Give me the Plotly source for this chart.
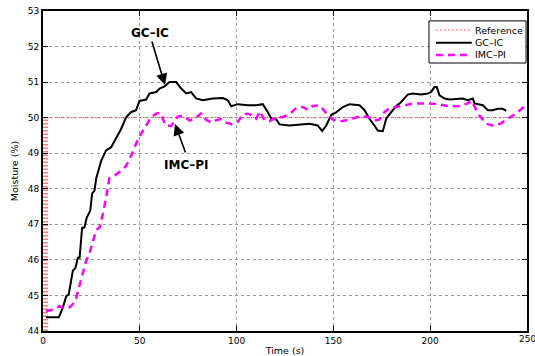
import plotly.graph_objects as go

# ---------------- data ----------------
gc_t = [1.5, 8.2, 10.2, 12, 13.3, 15.4, 16.8, 18, 18.9, 20.2, 21.4, 22.6, 24.4, 25.4, 26.6, 27.5,
        30.1, 32.6, 35.2, 37.8, 40.4, 43, 45.6, 48.1, 49.8, 53.3, 55, 58.5, 60.2, 62.8, 65.3, 68.8,
        71.4, 74, 76.5, 79.1, 82.5, 87.7, 92.9, 95.5, 97.2, 100.6, 105.8, 110.1, 113.5, 116.1, 117.9,
        120.5, 122.2, 127.3, 132.5, 137.7, 141.9, 144.2, 146.3, 148.9, 151.4, 154.9, 158.3, 163.5,
        166.1, 168.6, 171.2, 172.9, 175.5, 177.3, 179.9, 182.4, 185, 186.7, 188.4, 191, 195.3, 198.8,
        200.5, 202.2, 203.4, 204.8, 207.4, 210, 216.8, 219.4, 222, 222.9, 227.2, 229.8, 232.3, 234.9,
        237.5, 239.3]
gc_v = [44.39, 44.39, 44.65, 44.98, 45.03, 45.69, 45.78, 46.06, 46.06, 46.9, 46.91, 47.19, 47.38, 47.87, 47.95, 48.3,
        48.79, 49.08, 49.17, 49.45, 49.69, 50.02, 50.16, 50.21, 50.47, 50.51, 50.68, 50.72, 50.82, 50.88, 51.0, 51.0,
        50.82, 50.68, 50.72, 50.54, 50.49, 50.54, 50.55, 50.49, 50.32, 50.38, 50.35, 50.35, 50.38, 50.16, 49.97,
        49.95, 49.81, 49.78, 49.81, 49.83, 49.78, 49.62, 49.78, 50.08, 50.15, 50.3, 50.38, 50.35,
        50.21, 49.97, 49.78, 49.64, 49.62, 49.97, 50.16, 50.32, 50.44, 50.54, 50.65, 50.68, 50.65, 50.68,
        50.72, 50.86, 50.86, 50.63, 50.54, 50.51, 50.54, 50.49, 50.54, 50.4, 50.35, 50.21, 50.21, 50.25,
        50.25, 50.19]

imc_t = [1.5, 5.1, 8.5, 10.2, 13.7, 15.4, 17.1, 18.9, 20.6, 22.3, 24.1, 25.7, 27.5, 29.2, 30.9, 32.6,
         34.3, 36.9, 40.4, 43, 45.6, 48.1, 50.7, 53.3, 55.9, 58.5, 60.2, 61.9, 63.3, 66.2, 69.6, 72.2,
         75.7, 78.3, 81.7, 84.3, 86.9, 89.5, 92, 94.6, 97.2, 100.6, 103.6, 106.7, 110.1, 111.9, 114.5,
         117, 120.5, 123.9, 127.3, 130.8, 134.2, 136.8, 139.4, 142.8, 144.9, 147.1, 149.7, 153.1, 156.6,
         160, 164.3, 167.8, 171.2, 173.8, 176.4, 179, 182.4, 185.8, 191, 195.3, 199.6, 204.8, 210, 214.3,
         216.8, 219.4, 221.2, 222.9, 225.5, 228.9, 232.3, 236.2, 239.3, 242.7, 245.5, 248.7, 250]
imc_v = [44.56, 44.6, 44.7, 44.65, 44.67, 44.75, 44.93, 45.31, 45.69, 45.97, 46.2, 46.53, 46.84, 46.91, 47.29, 47.76,
         48.3, 48.37, 48.51, 48.65, 48.94, 49.27, 49.55, 49.78, 50.02, 50.11, 50.14, 49.97, 49.78, 49.77, 50.03, 50.06,
         49.92, 49.97, 50.12, 49.94, 49.86, 49.93, 49.96, 49.86, 49.82, 49.88, 50.11, 50.1, 49.97, 50.18, 49.92,
         49.9, 50.0, 50.02, 50.1, 50.27, 50.3, 50.22, 50.33, 50.35, 50.21, 50.08, 49.95, 49.89, 49.93,
         49.98, 50.04, 50.02, 49.92, 49.95, 50.16, 50.27, 50.29, 50.33, 50.4, 50.4, 50.4, 50.37, 50.32, 50.32,
         50.35, 50.4, 50.48, 50.3, 50.05, 49.83, 49.78, 49.83, 49.93, 50.06, 50.17, 50.33, 50.38]

ref_t = [0, 250]
ref_v = [50, 50]
ref_start_t = [1.3, 1.3]
ref_start_v = [44, 50]

x_ticks = [0, 50, 100, 150, 200, 250]
y_ticks = [44, 45, 46, 47, 48, 49, 50, 51, 52, 53]

FONT = "DejaVu Sans"
MAG = "#ff00ff"
REF_COL = "#ff4040"
REF_DASH = "1.5px,2.5px"
TICKFONT = dict(family=FONT, size=9, color="black")

fig = go.Figure()
fig.add_trace(go.Scatter(x=ref_start_t, y=ref_start_v, mode="lines", showlegend=False,
                         line=dict(color="#ff7a7a", width=5, dash="1.5px,2px"), cliponaxis=False))
fig.add_trace(go.Scatter(x=ref_t, y=ref_v, mode="lines", name="Reference",
                         line=dict(color=REF_COL, width=1, dash=REF_DASH)))
fig.add_trace(go.Scatter(x=gc_t, y=gc_v, mode="lines", name="GC\u2013IC",
                         line=dict(color="black", width=2)))
fig.add_trace(go.Scatter(x=imc_t, y=imc_v, mode="lines", name="IMC\u2013PI",
                         line=dict(color=MAG, width=2.5, dash="7px,5px")))

axis_common = dict(showline=True, linecolor="black", linewidth=2, mirror="ticks",
                   ticks="inside", ticklen=5, tickcolor="black", tickwidth=1,
                   showgrid=True, gridcolor="#9a9a9a", gridwidth=1, griddash="dot",
                   zeroline=False, automargin=False, tickfont=TICKFONT)

fig.update_xaxes(range=[0, 250], tickvals=x_ticks, ticktext=[str(v) for v in x_ticks],
                 ticklabelstandoff=0,
                 title=dict(text="Time (s)", font=dict(family=FONT, size=9.5, color="black"), standoff=3),
                 **axis_common)
fig.update_yaxes(range=[44, 53], tickvals=y_ticks, ticktext=[str(v) for v in y_ticks],
                 title=dict(text="Moisture (%)", font=dict(family=FONT, size=9.5, color="black"), standoff=7),
                 **axis_common)

# text labels with arrows
annos = [
    dict(x=55.3, y=52.37, xref="x", yref="y", text="<b>GC\u2013IC</b>", showarrow=False,
         font=dict(family=FONT, size=12, color="black")),
    dict(x=73.9, y=48.68, xref="x", yref="y", text="<b>IMC\u2013PI</b>", showarrow=False,
         font=dict(family=FONT, size=12, color="black")),
    dict(x=63.0, y=50.92, xref="x", yref="y", text="", showarrow=True, ax=-13.5, ay=-45,
         arrowhead=2, arrowsize=1.4, arrowwidth=1.6, arrowcolor="black"),
    dict(x=68.2, y=49.82, xref="x", yref="y", text="", showarrow=True, ax=11, ay=30,
         arrowhead=2, arrowsize=1.4, arrowwidth=1.6, arrowcolor="black"),
    # last x tick label, partly cut by the page edge as in the original
    dict(x=x_ticks[-1], y=0, xref="x", yref="paper", text=str(x_ticks[-1]), showarrow=False,
         xanchor="center", yanchor="top", yshift=-1, font=TICKFONT),
]

# manual legend (MATLAB style compact box)
lg_x0, lg_x1, lg_y0, lg_y1 = 0.7975, 0.998, 0.8375, 0.969
rows = [0.9406, 0.901, 0.8625]
samp_x0, samp_x1, txt_x = 0.812, 0.886, 0.889
shapes = [dict(type="rect", xref="paper", yref="paper", x0=lg_x0, x1=lg_x1, y0=lg_y0, y1=lg_y1,
               line=dict(color="black", width=1), fillcolor="white", layer="above")]
styles = [dict(color=REF_COL, width=1, dash=REF_DASH),
          dict(color="black", width=2),
          dict(color=MAG, width=2.5, dash="7px,5px")]
names = ["Reference", "GC\u2013IC", "IMC\u2013PI"]
for ry, st, nm in zip(rows, styles, names):
    shapes.append(dict(type="line", xref="paper", yref="paper", x0=samp_x0, x1=samp_x1, y0=ry, y1=ry,
                       line=st, layer="above"))
    annos.append(dict(x=txt_x, y=ry, xref="paper", yref="paper", text=nm, showarrow=False,
                      xanchor="left", yanchor="middle", font=dict(family=FONT, size=9.5, color="black")))

fig.update_layout(width=535, height=356, margin=dict(l=43, r=8, t=11, b=25),
                  plot_bgcolor="white", paper_bgcolor="white", showlegend=False,
                  annotations=annos, shapes=shapes, font=dict(family=FONT))

fig.write_html("out.html")
